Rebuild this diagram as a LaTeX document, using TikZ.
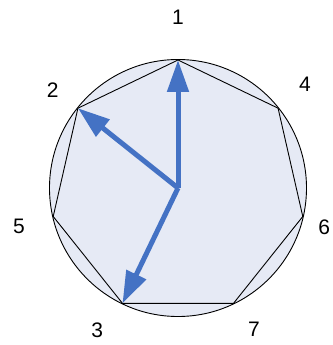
\documentclass[tikz,border=0pt]{standalone}
\usepackage{fontspec}
\setmainfont{Liberation Sans}
\definecolor{clkBlue}{HTML}{4472C4}
\definecolor{clkFill}{HTML}{E6EAF5}
\usetikzlibrary{arrows.meta}

\begin{document}
\begin{tikzpicture}[x=1pt,y=1pt,
  lbl/.style={font=\fontsize{21}{24}\selectfont,inner sep=0pt},
  rim/.style={draw=black,line width=0.9pt},
  hand/.style={-{Triangle[length=32pt,width=21pt]},clkBlue,line width=5pt}
]
  \useasboundingbox (-178,-157) rectangle (154,188);

  % dial
  \node[circle,rim,fill=clkFill,minimum size=257pt,inner sep=0pt] (dial) at (0,0) {};
  \coordinate (ctr) at (0,0);

  % heptagon corners
  \coordinate (p1) at (90:128);
  \coordinate (p2) at (141.43:128);
  \coordinate (p5) at (192.86:128);
  \coordinate (p3) at (244.29:128);
  \coordinate (p7) at (295.71:128);
  \coordinate (p6) at (347.14:128);
  \coordinate (p4) at (38.57:128);
  \draw[rim] (p1) -- (p2) -- (p5) -- (p3) -- (p7) -- (p6) -- (p4) -- cycle;

  % labels
  \node[lbl] (n1) at (90:170.5)  {1};
  \node[lbl] (n2) at (142:159)   {2};
  \node[lbl] (n5) at (193.4:163.5) {5};
  \node[lbl] (n3) at (240.5:164) {3};
  \node[lbl] (n7) at (298.2:160.5) {7};
  \node[lbl] (n6) at (344.8:151.5) {6};
  \node[lbl] (n4) at (39.3:164)  {4};

  % hands
  \draw[hand] (ctr) -- (p1);
  \draw[hand] (ctr) -- (p2);
  \draw[hand] (ctr) -- (p3);
\end{tikzpicture}
\end{document}
